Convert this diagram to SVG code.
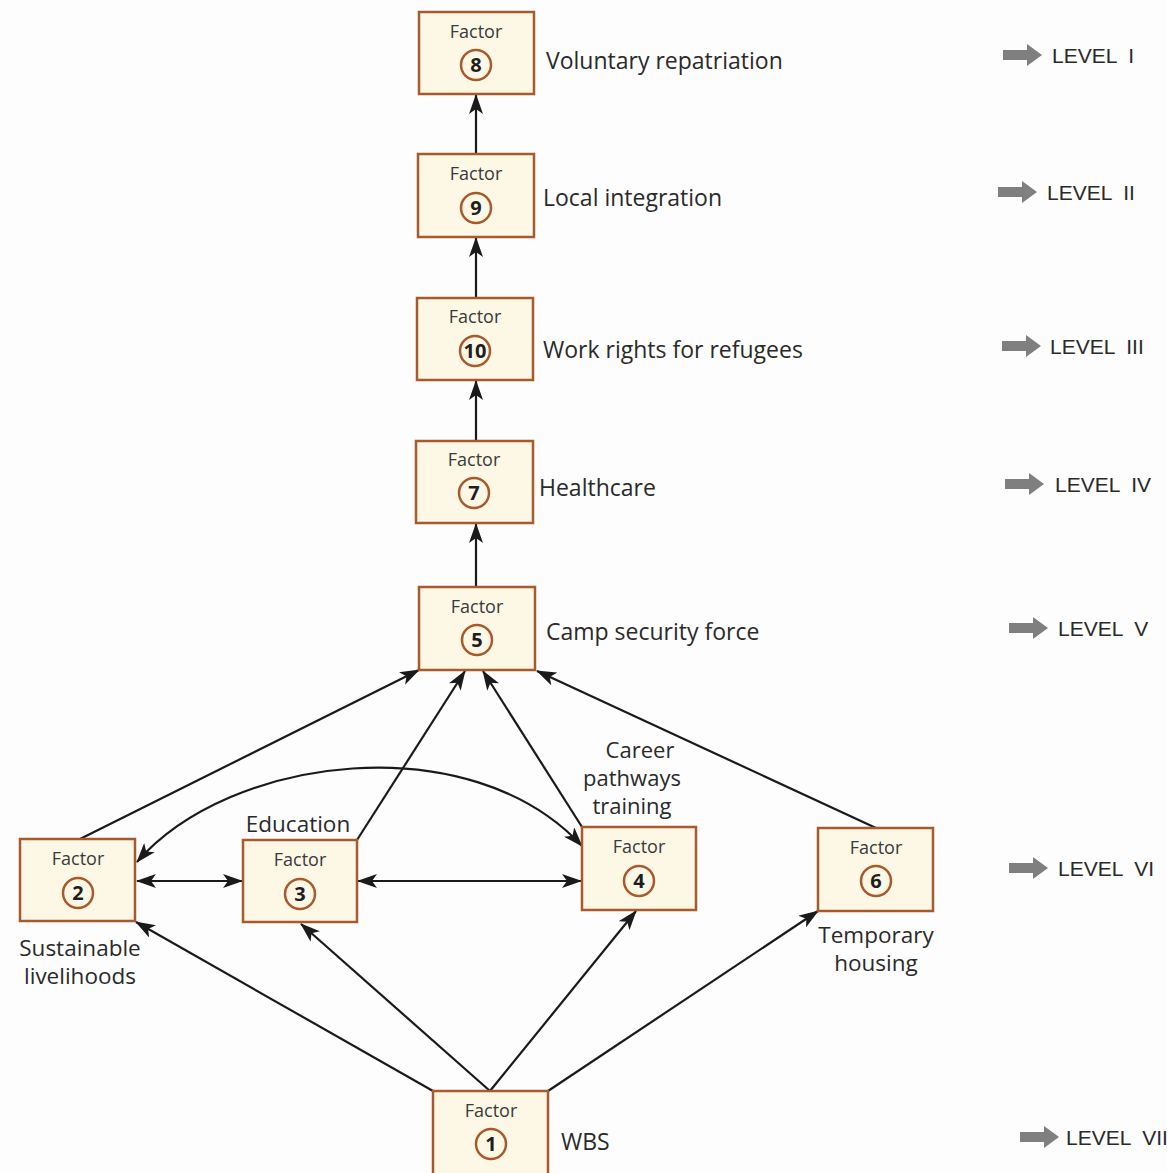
<svg xmlns="http://www.w3.org/2000/svg" width="1167" height="1173" viewBox="0 0 1167 1173">
<defs>
<marker id="ah" viewBox="0 0 20 14" refX="19" refY="7" markerWidth="20" markerHeight="14" markerUnits="userSpaceOnUse" orient="auto-start-reverse">
<path d="M0,0 L20,7 L0,14 L5,7 z" fill="#1a1a1a"/>
</marker>
</defs>
<style>
.box{fill:#fdf8e6;stroke:#a85a2c;stroke-width:2.5}
.circ{fill:none;stroke:#a85a2c;stroke-width:2.5}
.f{font-family:"Open Sans","Liberation Sans",Arial,sans-serif;font-size:18px;fill:#3a3a3a;text-anchor:middle}
.n{font-family:"Open Sans","Liberation Sans",Arial,sans-serif;font-size:20px;font-weight:bold;fill:#1e1e1e;text-anchor:middle}
.lb{font-family:"Open Sans","Liberation Sans",Arial,sans-serif;font-size:23px;fill:#2a2a2a}
.lbc{font-family:"Open Sans","Liberation Sans",Arial,sans-serif;font-size:22.5px;fill:#2a2a2a;text-anchor:middle}
.lv{font-family:"Liberation Sans",Arial,sans-serif;font-size:21px;fill:#2a2a2a;white-space:pre}
.ga{fill:#7f7f7f}
.c{fill:none;stroke:#1a1a1a;stroke-width:2.2}
</style>
<rect width="1167" height="1173" fill="#fdfdfd"/>

<g id="connectors">
<line class="c" x1="476" y1="154" x2="476" y2="95" marker-end="url(#ah)"/>
<line class="c" x1="476" y1="298" x2="476" y2="238" marker-end="url(#ah)"/>
<line class="c" x1="476" y1="441" x2="476" y2="381" marker-end="url(#ah)"/>
<line class="c" x1="476" y1="587" x2="476" y2="524" marker-end="url(#ah)"/>
<line class="c" x1="80" y1="839" x2="419" y2="670" marker-end="url(#ah)"/>
<line class="c" x1="357" y1="840" x2="465" y2="671" marker-end="url(#ah)"/>
<line class="c" x1="582" y1="827" x2="483" y2="671" marker-end="url(#ah)"/>
<line class="c" x1="876" y1="828" x2="537" y2="671" marker-end="url(#ah)"/>
<line class="c" x1="137" y1="881" x2="242" y2="881" marker-start="url(#ah)" marker-end="url(#ah)"/>
<line class="c" x1="358" y1="881" x2="581" y2="881" marker-start="url(#ah)" marker-end="url(#ah)"/>
<path class="c" d="M137,862 C230,755 470,725 582,846" marker-start="url(#ah)" marker-end="url(#ah)"/>
<line class="c" x1="433" y1="1091" x2="136" y2="922" marker-end="url(#ah)"/>
<line class="c" x1="490" y1="1091" x2="301" y2="924" marker-end="url(#ah)"/>
<line class="c" x1="490" y1="1091" x2="636" y2="911" marker-end="url(#ah)"/>
<line class="c" x1="548" y1="1091" x2="818" y2="911" marker-end="url(#ah)"/>
</g>

<g id="node8">
<rect class="box" x="419" y="12" width="115" height="82"/>
<text class="f" x="476" y="38">Factor</text>
<circle class="circ" cx="476" cy="65" r="15"/>
<text class="n" x="476" y="72">8</text>
<text class="lb" x="546" y="69">Voluntary repatriation</text>
</g>
<g id="node9">
<rect class="box" x="418" y="154" width="116" height="83"/>
<text class="f" x="476" y="180">Factor</text>
<circle class="circ" cx="476" cy="208" r="15"/>
<text class="n" x="476" y="215">9</text>
<text class="lb" x="543" y="206">Local integration</text>
</g>
<g id="node10">
<rect class="box" x="417" y="298" width="116" height="82"/>
<text class="f" x="475" y="323">Factor</text>
<circle class="circ" cx="475" cy="351" r="15"/>
<text class="n" x="475" y="358">10</text>
<text class="lb" x="543" y="358">Work rights for refugees</text>
</g>
<g id="node7">
<rect class="box" x="416" y="441" width="117" height="82"/>
<text class="f" x="474" y="466">Factor</text>
<circle class="circ" cx="474" cy="493" r="15"/>
<text class="n" x="474" y="500">7</text>
<text class="lb" x="539" y="496">Healthcare</text>
</g>
<g id="node5">
<rect class="box" x="419" y="587" width="116" height="83"/>
<text class="f" x="477" y="613">Factor</text>
<circle class="circ" cx="477" cy="640" r="15"/>
<text class="n" x="477" y="647">5</text>
<text class="lb" x="546" y="640">Camp security force</text>
</g>
<g id="node2">
<rect class="box" x="20" y="839" width="115" height="82"/>
<text class="f" x="78" y="865">Factor</text>
<circle class="circ" cx="78" cy="893" r="15"/>
<text class="n" x="78" y="900">2</text>
<text class="lbc" x="80" y="956">Sustainable<tspan x="80" dy="28">livelihoods</tspan></text>
</g>
<g id="node3">
<rect class="box" x="243" y="840" width="114" height="82"/>
<text class="f" x="300" y="866">Factor</text>
<circle class="circ" cx="300" cy="894" r="15"/>
<text class="n" x="300" y="901">3</text>
<text class="lbc" x="298" y="832">Education</text>
</g>
<g id="node4">
<rect class="box" x="582" y="827" width="114" height="83"/>
<text class="f" x="639" y="853">Factor</text>
<circle class="circ" cx="639" cy="881" r="15"/>
<text class="n" x="639" y="888">4</text>
<text class="lbc" x="640" y="758" style="font-size:22px">Career<tspan x="632" dy="28">pathways</tspan><tspan x="632" dy="28">training</tspan></text>
</g>
<g id="node6">
<rect class="box" x="818" y="828" width="115" height="83"/>
<text class="f" x="876" y="854">Factor</text>
<circle class="circ" cx="876" cy="881" r="15"/>
<text class="n" x="876" y="888">6</text>
<text class="lbc" x="876" y="943">Temporary<tspan x="876" dy="28">housing</tspan></text>
</g>
<g id="node1">
<rect class="box" x="433" y="1091" width="115" height="90"/>
<text class="f" x="491" y="1117">Factor</text>
<circle class="circ" cx="491" cy="1144" r="15"/>
<text class="n" x="491" y="1151">1</text>
<text class="lb" x="561" y="1150">WBS</text>
</g>

<g id="levels">
<path class="ga" d="M1003,50 h24 v-6 l15,11 l-15,11 v-6 h-24 z"/>
<text class="lv" x="1052" y="63">LEVEL  I</text>
<path class="ga" d="M998,187 h24 v-6 l15,11 l-15,11 v-6 h-24 z"/>
<text class="lv" x="1047" y="200">LEVEL  II</text>
<path class="ga" d="M1002,341 h24 v-6 l15,11 l-15,11 v-6 h-24 z"/>
<text class="lv" x="1050" y="354">LEVEL  III</text>
<path class="ga" d="M1005,479 h24 v-6 l15,11 l-15,11 v-6 h-24 z"/>
<text class="lv" x="1055" y="492">LEVEL  IV</text>
<path class="ga" d="M1009,623 h24 v-6 l15,11 l-15,11 v-6 h-24 z"/>
<text class="lv" x="1058" y="636">LEVEL  V</text>
<path class="ga" d="M1009,863 h24 v-6 l15,11 l-15,11 v-6 h-24 z"/>
<text class="lv" x="1058" y="876">LEVEL  VI</text>
<path class="ga" d="M1020,1132 h24 v-6 l15,11 l-15,11 v-6 h-24 z"/>
<text class="lv" x="1066" y="1145">LEVEL  VII</text>
</g>
</svg>
